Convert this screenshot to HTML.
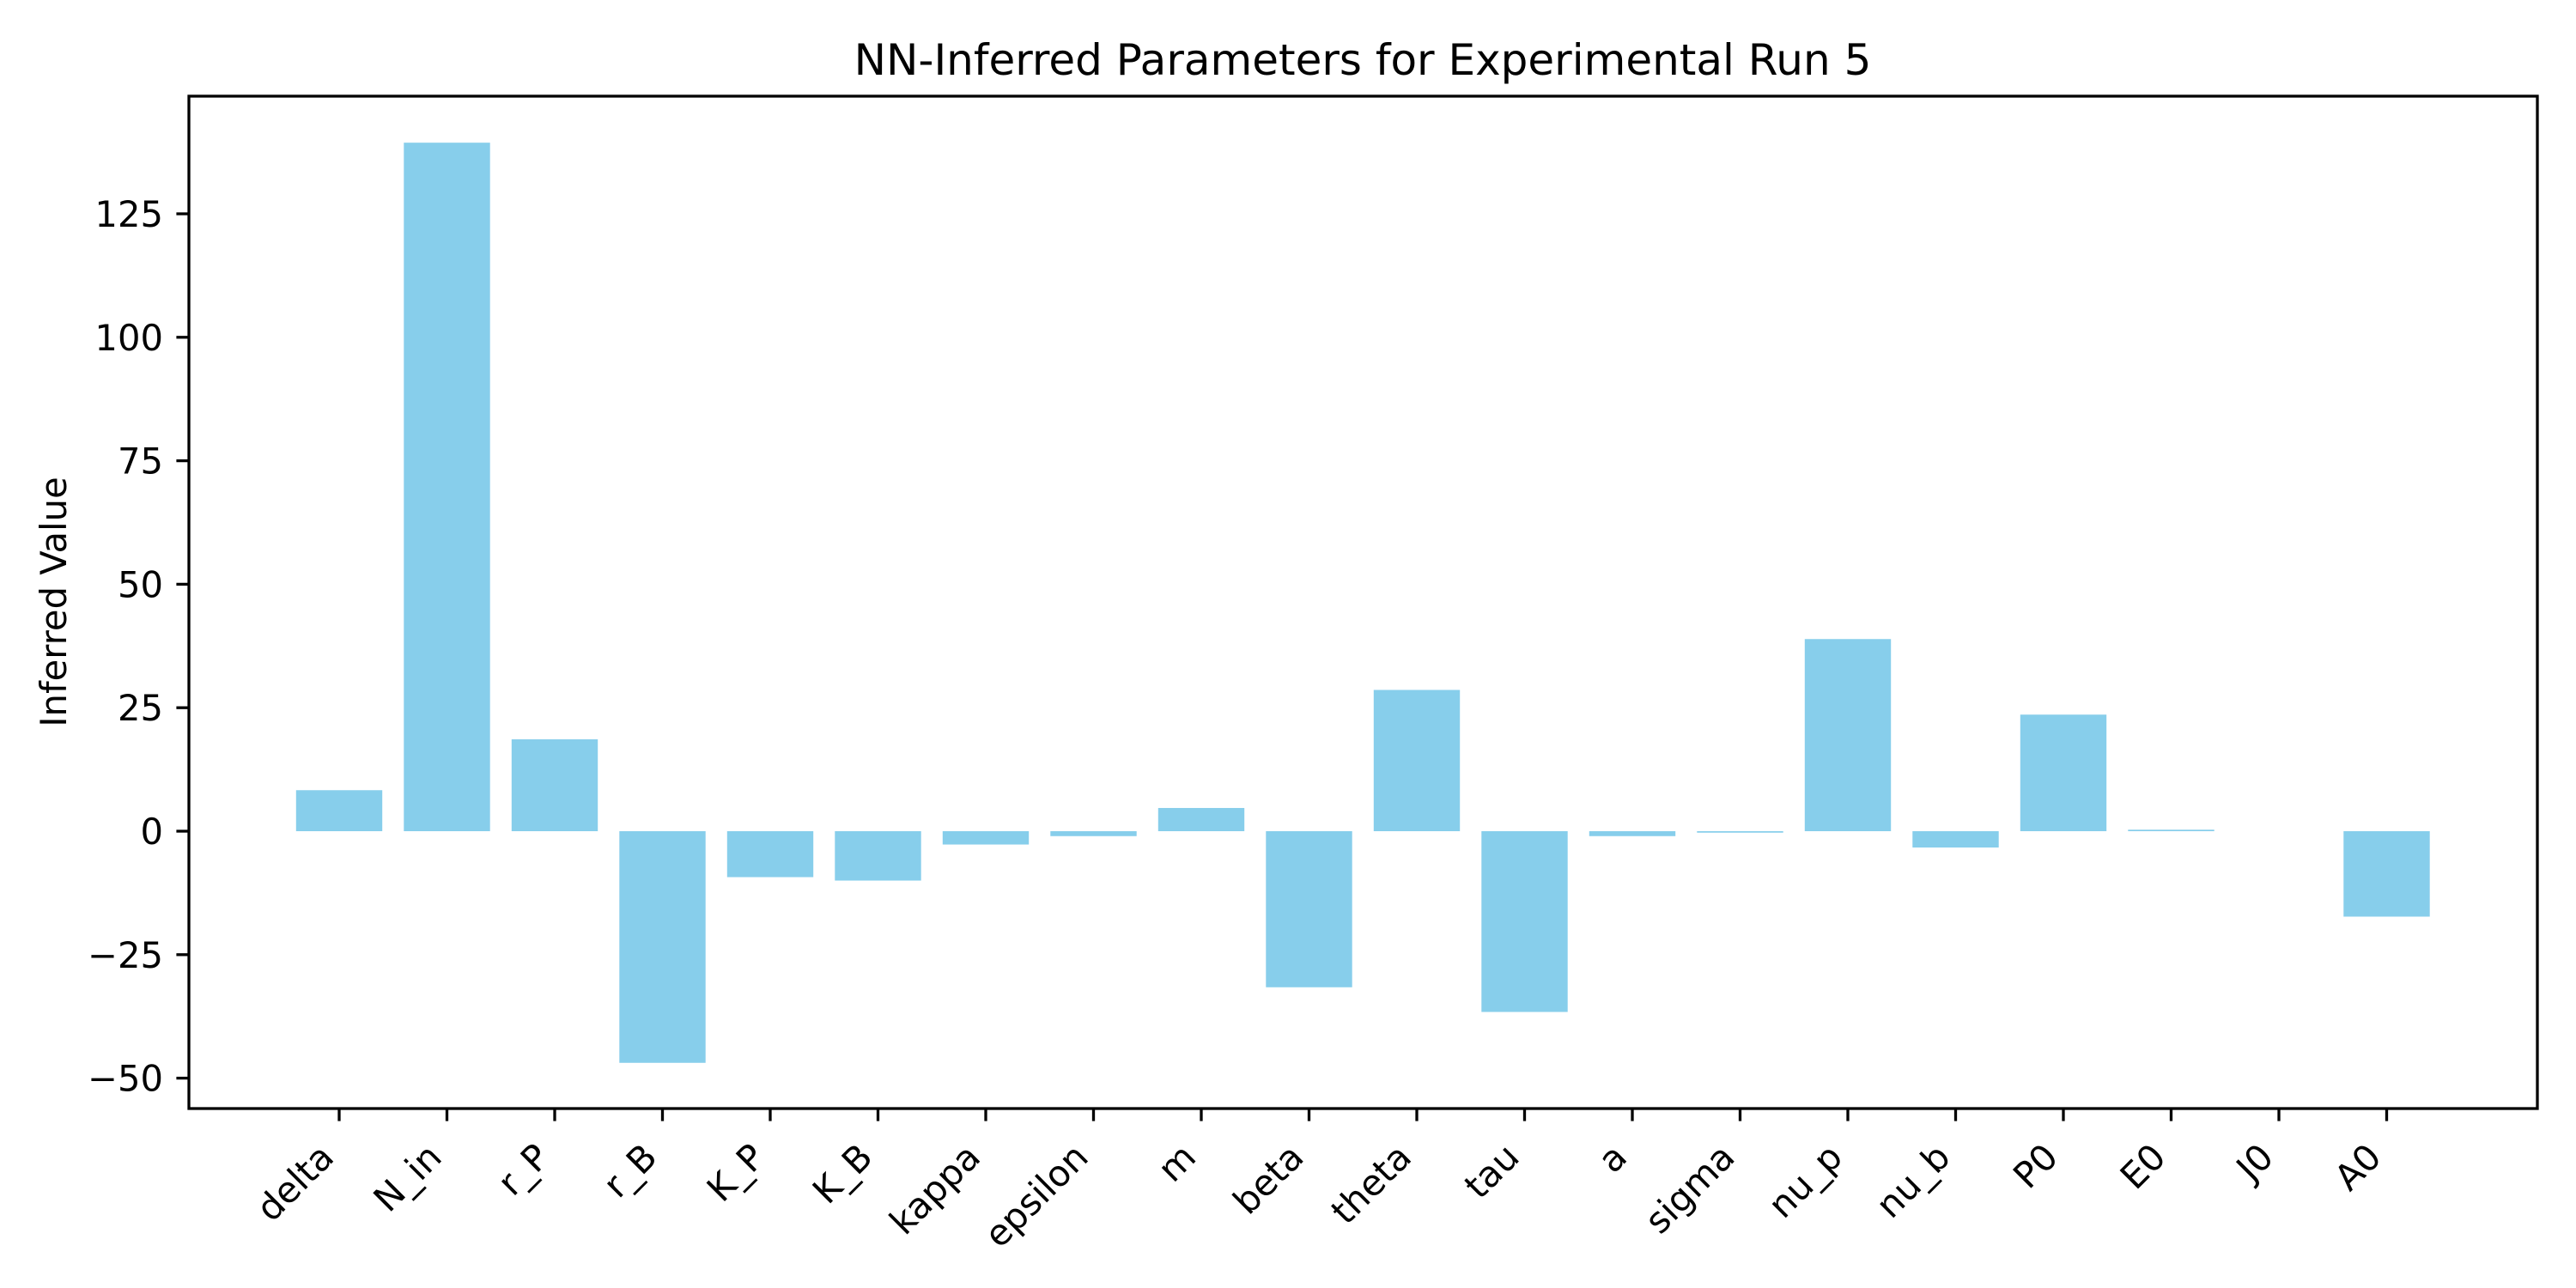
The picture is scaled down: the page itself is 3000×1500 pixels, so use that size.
<!DOCTYPE html>
<html><head><meta charset="utf-8"><style>
html,body{margin:0;padding:0;background:#fff;}
svg{display:block;font-family:"DejaVu Sans","Liberation Sans",sans-serif;}
</style></head><body>
<svg id="chart" width="3000" height="1500" viewBox="0 0 3000 1500" xmlns="http://www.w3.org/2000/svg">
<rect width="3000" height="1500" fill="#fff"/>
<text x="1587" y="87" font-size="50" text-anchor="middle" fill="#000">NN-Inferred Parameters for Experimental Run 5</text>
<text transform="translate(77,701) rotate(-90)" font-size="41.7" text-anchor="middle" fill="#000">Inferred Value</text>
<g id="bars"></g>
<g id="yticks"></g>
<g id="xticks"></g>
<rect x="220" y="112" width="2735" height="1179" fill="none" stroke="#000" stroke-width="3.3"/>
</svg>
<script>
const categories = ["delta","N_in","r_P","r_B","K_P","K_B","kappa","epsilon","m","beta","theta","tau","a","sigma","nu_p","nu_b","P0","E0","J0","A0"];
const values = [8.3,139.4,18.6,-46.9,-9.3,-10,-2.7,-1,4.7,-31.6,28.6,-36.6,-1,-0.3,38.9,-3.3,23.6,0.3,0,-17.3];
const yTicks = [-50,-25,0,25,50,75,100,125];
const yTickLabels = ["\u221250","\u221225","0","25","50","75","100","125"];

const NS = "http://www.w3.org/2000/svg";
const x0 = 395, step = 125.5, barW = 100.4;
function xPos(i){ return x0 + i*step; }
function yPos(v){ return 968 - v*5.752; }

const bars = document.getElementById('bars');
values.forEach((v,i)=>{
  const r = document.createElementNS(NS,'rect');
  const y1 = yPos(Math.max(v,0)), y2 = yPos(Math.min(v,0));
  r.setAttribute('x', xPos(i)-barW/2);
  r.setAttribute('y', y1);
  r.setAttribute('width', barW);
  r.setAttribute('height', Math.max(y2-y1,0));
  r.setAttribute('fill', '#87ceeb');
  
  
  bars.appendChild(r);
});

const yg = document.getElementById('yticks');
yTicks.forEach((t,i)=>{
  const y = yPos(t);
  const l = document.createElementNS(NS,'line');
  l.setAttribute('x1',220); l.setAttribute('x2',205.4);
  l.setAttribute('y1',y); l.setAttribute('y2',y);
  l.setAttribute('stroke','#000'); l.setAttribute('stroke-width','3.3');
  
  
  yg.appendChild(l);
  const tx = document.createElementNS(NS,'text');
  tx.setAttribute('x',190); tx.setAttribute('y',y+15);
  tx.setAttribute('font-size','41.7'); tx.setAttribute('text-anchor','end');
  tx.textContent = yTickLabels[i];
  
  
  yg.appendChild(tx);
});

const xg = document.getElementById('xticks');
categories.forEach((c,i)=>{
  const x = xPos(i);
  const l = document.createElementNS(NS,'line');
  l.setAttribute('x1',x); l.setAttribute('x2',x);
  l.setAttribute('y1',1291); l.setAttribute('y2',1305.6);
  l.setAttribute('stroke','#000'); l.setAttribute('stroke-width','3.3');
  
  
  xg.appendChild(l);
  const tx = document.createElementNS(NS,'text');
  tx.setAttribute('transform','translate('+(x-4)+',1350) rotate(-45)');
  tx.setAttribute('font-size','41.7'); tx.setAttribute('text-anchor','end');
  tx.textContent = c;
  
  
  xg.appendChild(tx);
});
</script>
</body></html>
